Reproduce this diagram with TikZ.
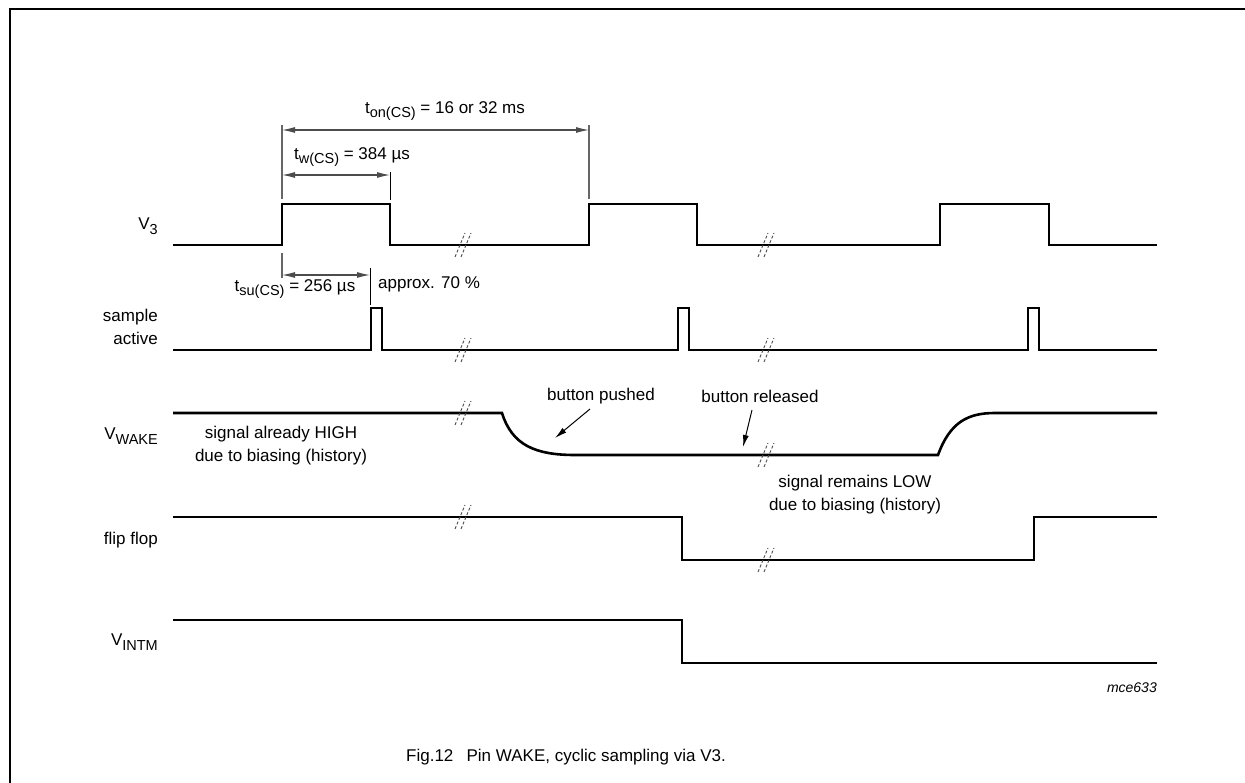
\documentclass[tikz,border=0pt]{standalone}
\usepackage{fontspec}
\setmainfont{Liberation Sans}
\usetikzlibrary{arrows.meta}
\newcommand{\lsub}[1]{\raisebox{-0.5ex}{\fontsize{14.5}{15}\selectfont #1}}
\newcommand{\brkmark}[2]{%
  \begin{scope}[shift={(#1,#2)}]
    \draw[brkline] (-9,12) -- (1,-12);
    \draw[brkline] (-3,12) -- (7,-12);
  \end{scope}}
\tikzset{
  sig/.style={line width=2.6pt, line join=miter, line cap=butt},
  dimgray/.style={line width=1.1pt, draw=black!60},
  dimblack/.style={line width=1.0pt, draw=black},
  dimarrow/.style={line width=1.1pt, draw=black!70, {Latex[length=13pt,width=6pt]}-{Latex[length=13pt,width=6pt]}},
  ptr/.style={line width=1.0pt, -{Latex[length=12pt,width=6pt]}},
  brkline/.style={line width=0.9pt, draw=black!70, dash pattern=on 3pt off 2pt},
  txt/.style={font=\fontsize{17}{23}\selectfont, inner sep=0pt},
  lbl/.style={txt, anchor=east, align=right},
}
\begin{document}
\begin{tikzpicture}[x=1pt,y=-1pt]
\useasboundingbox (0,0) rectangle (1245,783);
% frame
\draw[line width=2.4pt] (1245,9) -- (10,9) -- (10,783);

% signal labels
\node[lbl] (lv3) at (158,226) {V\lsub{3}};
\node[lbl] (lsa) at (158,327) {sample\\active};
\node[lbl] (lwk) at (158,436) {V\lsub{WAKE}};
\node[lbl] (lff) at (158,540) {flip flop};
\node[lbl] (lim) at (158,642) {V\lsub{INTM}};

% V3
\draw[sig] (173,245) -- (282,245) -- (282,204) -- (390,204) -- (390,245) -- (589,245)
  -- (589,204) -- (697,204) -- (697,245) -- (940,245) -- (940,204) -- (1049,204)
  -- (1049,245) -- (1157,245);
\brkmark{464}{245}\brkmark{767}{245}

% sample active
\draw[sig] (173,350) -- (371,350) -- (371,308) -- (382,308) -- (382,350) -- (678,350)
  -- (678,308) -- (689,308) -- (689,350) -- (1028,350) -- (1028,308) -- (1039,308)
  -- (1039,350) -- (1157,350);
\brkmark{464}{350}\brkmark{767}{350}

% V_WAKE
\draw[sig] (173,413) -- (502,413) .. controls (512,445) and (535,455) .. (575,455)
  -- (938,455) .. controls (950,422) and (968,413) .. (995,413) -- (1157,413);
\brkmark{464}{413}\brkmark{767}{455}

% flip flop
\draw[sig] (173,517) -- (682,517) -- (682,560) -- (1034,560) -- (1034,517) -- (1157,517);
\brkmark{464}{517}\brkmark{767}{560}

% V_INTM
\draw[sig] (173,620) -- (682,620) -- (682,663) -- (1157,663);

% dimension lines
\coordinate (e1t) at (282,125); \coordinate (e1b) at (282,199);
\coordinate (e1l) at (282,253); \coordinate (e1m) at (282,278);
\coordinate (e2t) at (589,125); \coordinate (e2b) at (589,199);
\coordinate (e3t) at (390,172); \coordinate (e3b) at (390,200);
\coordinate (e4t) at (370,268); \coordinate (e4b) at (370,305);
\draw[dimgray] (e1t) -- (e1b);
\draw[dimgray] (e1l) -- (e1m);
\draw[dimgray] (e2t) -- (e2b);
\draw[dimblack] (e3t) -- (e3b);
\draw[dimblack] (e4t) -- (e4b);

\coordinate (a1l) at (282,130); \coordinate (a1r) at (589,130);
\coordinate (a2l) at (282,175); \coordinate (a2r) at (390,175);
\coordinate (a3l) at (282,275); \coordinate (a3r) at (370,275);
\draw[dimarrow] (a1l) -- (a1r);
\draw[dimarrow] (a2l) -- (a2r);
\draw[dimarrow] (a3l) -- (a3r);

\node[txt] (ton) at (445,111) {t\lsub{on(CS)} = 16 or 32 ms};
\node[txt] (tw) at (352,157) {t\lsub{w(CS)} = 384 µs};
\node[txt] (tsu) at (295,289) {t\lsub{su(CS)} = 256 µs};
\node[txt, anchor=west] (apx) at (378,284) {approx. 70 \%};

% WAKE annotations
\node[txt, align=center] (hist1) at (281,446) {signal already HIGH\\due to biasing (history)};
\node[txt] (bp) at (601,396) {button pushed};
\node[txt] (br) at (760,396) {button released};
\coordinate (bpt) at (555,438);
\coordinate (brt) at (743,447);
\draw[ptr] (590,409) -- (bpt);
\draw[ptr] (752,410) -- (brt);
\node[txt, align=center] (hist2) at (855,495) {signal remains LOW\\due to biasing (history)};

\node[txt, anchor=east, font=\fontsize{14}{16}\selectfont\itshape] (ref) at (1157,688) {mce633};
\node[txt] (cap) at (566,757) {Fig.12\hspace{0.5em} Pin WAKE, cyclic sampling via V3.};
\end{tikzpicture}
\end{document}
